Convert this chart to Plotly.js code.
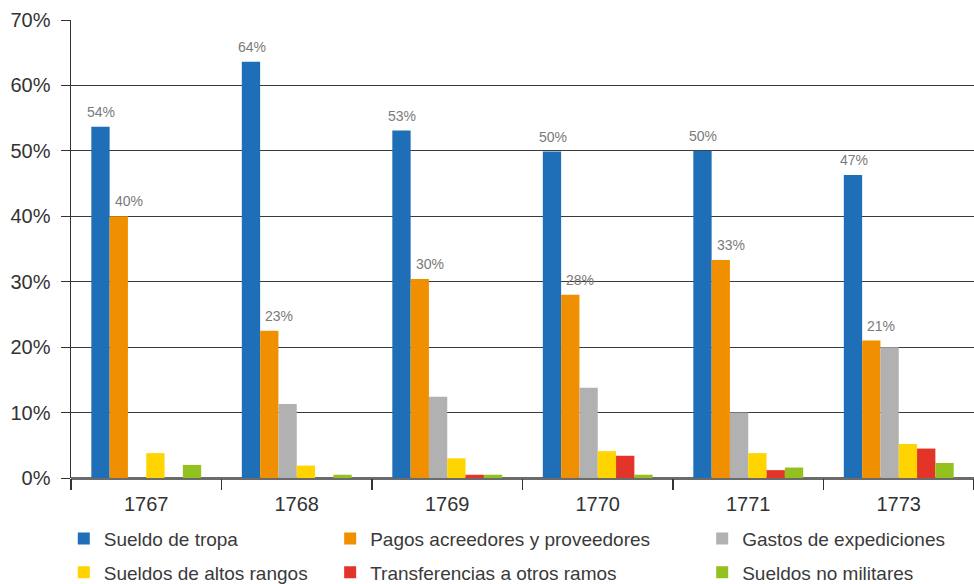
<!DOCTYPE html>
<html>
<head>
<meta charset="utf-8">
<script src="https://cdn.plot.ly/plotly-3.0.1.min.js"></script>
<style>html,body{margin:0;padding:0;background:#fff;}#chart{width:974px;height:584px;}</style>
</head>
<body>
<div id="chart"></div>
<script>
const years = ['1767', '1768', '1769', '1770', '1771', '1773'];
const sueldoTropa = [53.7, 63.6, 53.1, 49.9, 50.0, 46.3];
const pagosAcreedores = [40.0, 22.5, 30.4, 28.0, 33.3, 21.0];
const gastosExpediciones = [0, 11.3, 12.4, 13.8, 10.0, 20.0];
const sueldosAltos = [3.8, 1.9, 3.0, 4.1, 3.8, 5.2];
const transferencias = [0, 0, 0.5, 3.4, 1.2, 4.5];
const sueldosNoMilitares = [2.0, 0.5, 0.5, 0.5, 1.6, 2.3];
const labelsTropa = ['54%', '64%', '53%', '50%', '50%', '47%'];
const labelsPagos = ['40%', '23%', '30%', '28%', '33%', '21%'];

const names = ['Sueldo de tropa', 'Pagos acreedores y proveedores', 'Gastos de expediciones',
  'Sueldos de altos rangos', 'Transferencias a otros ramos', 'Sueldos no militares'];
const colors = ['#1f6fb8', '#f09000', '#b1b1b1', '#ffd400', '#e3342a', '#93c11f'];
const series = [sueldoTropa, pagosAcreedores, gastosExpediciones, sueldosAltos, transferencias, sueldosNoMilitares];
const legendFor = ['legend', 'legend2', 'legend3', 'legend', 'legend2', 'legend3'];

const FONT = '"Liberation Sans", Arial, sans-serif';
const W = 974, H = 584, ML = 71, MR = 0, MT = 20, MB = 106;
const BARGAP = 0.27;

const traces = series.map((vals, i) => ({
  type: 'bar',
  name: names[i],
  x: years,
  y: vals,
  marker: {color: colors[i], line: {width: 0}},
  hoverinfo: 'skip',
  legend: legendFor[i],
  legendgroup: 'g' + i
}));

// value labels above the blue and orange bars (x given as category index)
const catW = (W - ML - MR) / years.length;
const barW = catW * (1 - BARGAP) / series.length;
const annotations = [];
[[sueldoTropa, labelsTropa, 0, 1], [pagosAcreedores, labelsPagos, 1, 10]].forEach(([vals, labs, idx, extra]) => {
  const off = (idx - (series.length - 1) / 2) * barW + extra;
  years.forEach((yr, j) => {
    annotations.push({
      x: j, y: vals[j], xref: 'x', yref: 'y',
      text: labs[j], showarrow: false,
      xanchor: 'center', yanchor: 'bottom',
      xshift: off, yshift: 5,
      font: {family: FONT, size: 14, color: '#7a7a7a'}
    });
  });
});

const legendBase = {
  orientation: 'v',
  yref: 'container',
  yanchor: 'top',
  y: 0.11,
  font: {family: FONT, size: 19, color: '#3a3a3a'},
  bgcolor: 'rgba(0,0,0,0)',
  tracegroupgap: 6,
  itemclick: false,
  itemdoubleclick: false
};

const layout = {
  width: W,
  height: H,
  margin: {l: ML, r: MR, t: MT, b: MB},
  paper_bgcolor: '#ffffff',
  plot_bgcolor: '#ffffff',
  barmode: 'group',
  bargap: BARGAP,
  bargroupgap: 0,
  font: {family: FONT, color: '#333'},
  annotations: annotations,
  xaxis: {
    type: 'category',
    categoryorder: 'array',
    categoryarray: years,
    range: [-0.5, years.length - 0.5],
    tickson: 'boundaries',
    ticks: 'outside',
    ticklen: 11,
    tickwidth: 1.5,
    tickcolor: '#333',
    ticklabelstandoff: 12,
    tickangle: 0,
    showline: false,
    showgrid: false,
    tickfont: {family: FONT, size: 20, color: '#333'},
    fixedrange: true
  },
  yaxis: {
    range: [0, 70],
    dtick: 10,
    ticksuffix: '%',
    ticks: 'outside',
    ticklen: 9,
    tickcolor: '#333',
    ticklabelstandoff: 6,
    showgrid: true,
    gridcolor: '#3a3a3a',
    gridwidth: 1,
    showline: true,
    linecolor: '#333',
    linewidth: 1.5,
    zeroline: true,
    zerolinecolor: '#6b6b6b',
    zerolinewidth: 3,
    tickfont: {family: FONT, size: 20, color: '#333'},
    fixedrange: true
  },
  showlegend: true,
  legend: Object.assign({}, legendBase, {x: -0.008, xanchor: 'left'}),
  legend2: Object.assign({}, legendBase, {x: 0.287, xanchor: 'left'}),
  legend3: Object.assign({}, legendBase, {x: 0.699, xanchor: 'left'})
};

Plotly.newPlot('chart', traces, layout, {displayModeBar: false, staticPlot: true});
</script>
</body>
</html>
